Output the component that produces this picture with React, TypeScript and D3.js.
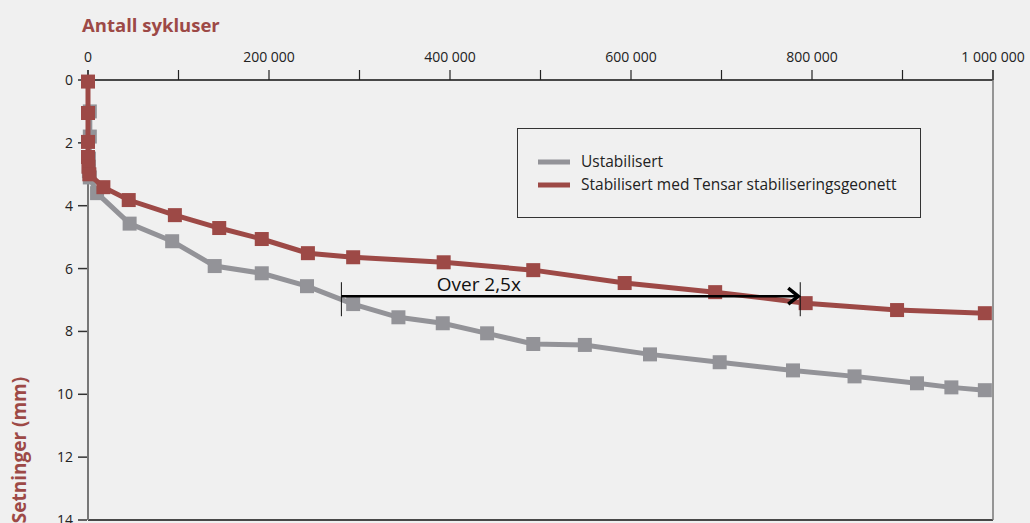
import * as d3 from 'd3';

// Antall sykluser (x) / Setninger mm (y)
const ustabX = [2000, 2000, 1000, 1000, 2000, 10000, 46000, 93000, 140000, 192000, 242000, 293000, 343000, 392000, 441000, 492000, 549000, 621000, 698000, 779000, 847000, 916000, 954000, 991000];
const ustabY = [1.0, 1.8, 2.5, 2.9, 3.1, 3.6, 4.57, 5.13, 5.92, 6.15, 6.56, 7.13, 7.55, 7.74, 8.06, 8.4, 8.43, 8.73, 8.98, 9.24, 9.43, 9.65, 9.78, 9.87];

const stabX = [0, 0, 0, 0, 500, 1500, 17000, 45000, 96000, 145000, 192000, 243000, 293000, 393000, 492000, 593000, 693000, 793000, 894000, 991000];
const stabY = [0.05, 1.05, 1.97, 2.45, 2.76, 3.0, 3.41, 3.82, 4.3, 4.71, 5.06, 5.51, 5.64, 5.8, 6.05, 6.46, 6.75, 7.1, 7.32, 7.42];

const xTicks = [0, 100000, 200000, 300000, 400000, 500000, 600000, 700000, 800000, 900000, 1000000];
const xLabels = [0, 200000, 400000, 600000, 800000, 1000000];
const yTicks = [0, 2, 4, 6, 8, 10, 12, 14];

// "Over 2,5x" pil
const arrowX = [280000, 787000];
const arrowY = 6.88;

const GRAY = '#939398';
const RED = '#9d4946';
const FONT = "'Open Sans', 'Noto Sans', sans-serif";

const fmt = (v: number) => d3.format(',')(v).replace(/,/g, ' ');

export default function App() {
  const width = 1030;
  const height = 523;
  const x = d3.scaleLinear().domain([0, 1000000]).range([88, 993]);
  const y = d3.scaleLinear().domain([0, 14]).range([80, 520]);

  const line = d3.line<[number, number]>().x((d) => x(d[0])).y((d) => y(d[1]));
  const ustab: [number, number][] = ustabX.map((v, i) => [v, ustabY[i]]);
  const stab: [number, number][] = stabX.map((v, i) => [v, stabY[i]]);
  const sq = 14;

  const ax0 = x(arrowX[0]);
  const ax1 = x(arrowX[1]);
  const ay = y(arrowY);

  return (
    <svg width={width} height={height} style={{ position: 'absolute', left: 0, top: 0 }} fontFamily={FONT}>
      <rect width={width} height={height} fill="#f0f0f0" />

      {/* titles */}
      <text x={82} y={32} fill={RED} fontSize={18.5} fontWeight="bold">Antall sykluser</text>
      <text transform="translate(26, 450) rotate(-90)" textAnchor="middle" fill={RED} fontSize={19} fontWeight="bold">Setninger (mm)</text>

      {/* frame */}
      <line x1={x(0)} x2={x(1000000)} y1={y(0)} y2={y(0)} stroke="#111" strokeWidth={1.5} />
      <line x1={x(0)} x2={x(1000000)} y1={y(14)} y2={y(14)} stroke="#111" strokeWidth={1.5} />
      <line x1={x(0)} x2={x(0)} y1={70} y2={y(14)} stroke="#777" strokeWidth={2} />
      <line x1={x(1000000)} x2={x(1000000)} y1={70} y2={y(14)} stroke="#777" strokeWidth={1.5} />

      {xTicks.map((t) => (
        <line key={t} x1={x(t)} x2={x(t)} y1={70} y2={y(0)} stroke="#222" strokeWidth={1.2} />
      ))}
      {xLabels.map((t) => (
        <text key={t} x={x(t)} y={62} textAnchor="middle" fontSize={14} fill="#222">{fmt(t)}</text>
      ))}
      {yTicks.map((t) => (
        <g key={t}>
          <line x1={78} x2={87} y1={y(t)} y2={y(t)} stroke="#333" strokeWidth={1.5} />
          <text x={73} y={y(t) + 5} textAnchor="end" fontSize={14} fill="#222">{t}</text>
        </g>
      ))}

      {/* series */}
      <path d={line(ustab) ?? ''} fill="none" stroke={GRAY} strokeWidth={5} />
      {ustab.map((d, i) => (
        <rect key={i} x={x(d[0]) - sq / 2} y={y(d[1]) - sq / 2} width={sq} height={sq} fill={GRAY} />
      ))}
      <path d={line(stab) ?? ''} fill="none" stroke={RED} strokeWidth={5} />
      {stab.map((d, i) => (
        <rect key={i} x={x(d[0]) - sq / 2} y={y(d[1]) - sq / 2} width={sq} height={sq} fill={RED} />
      ))}

      {/* arrow */}
      <line x1={ax0} x2={ax0} y1={ay - 14} y2={ay + 20} stroke="#111" strokeWidth={1} />
      <line x1={ax1} x2={ax1} y1={ay - 14} y2={ay + 20} stroke="#111" strokeWidth={1} />
      <line x1={ax0} x2={ax1 - 2} y1={ay} y2={ay} stroke="#000" strokeWidth={2.5} />
      <polyline points={`${ax1 - 12},${ay - 8} ${ax1 - 2},${ay} ${ax1 - 12},${ay + 8}`} fill="none" stroke="#000" strokeWidth={3.5} />
      <text x={(ax0 + ax1) / 2 - 92} y={ay - 5} textAnchor="middle" fontSize={19} fill="#111">Over 2,5x</text>

      {/* legend */}
      <rect x={517.5} y={128.5} width={403} height={89} fill="none" stroke="#333" strokeWidth={1} />
      <line x1={538} x2={570} y1={162} y2={162} stroke={GRAY} strokeWidth={5} />
      <text x={581} y={167} fontSize={15.5} fill="#222">Ustabilisert</text>
      <line x1={538} x2={570} y1={185} y2={185} stroke={RED} strokeWidth={5} />
      <text x={581} y={190} fontSize={15.5} fill="#222">Stabilisert med Tensar stabiliseringsgeonett</text>
    </svg>
  );
}
